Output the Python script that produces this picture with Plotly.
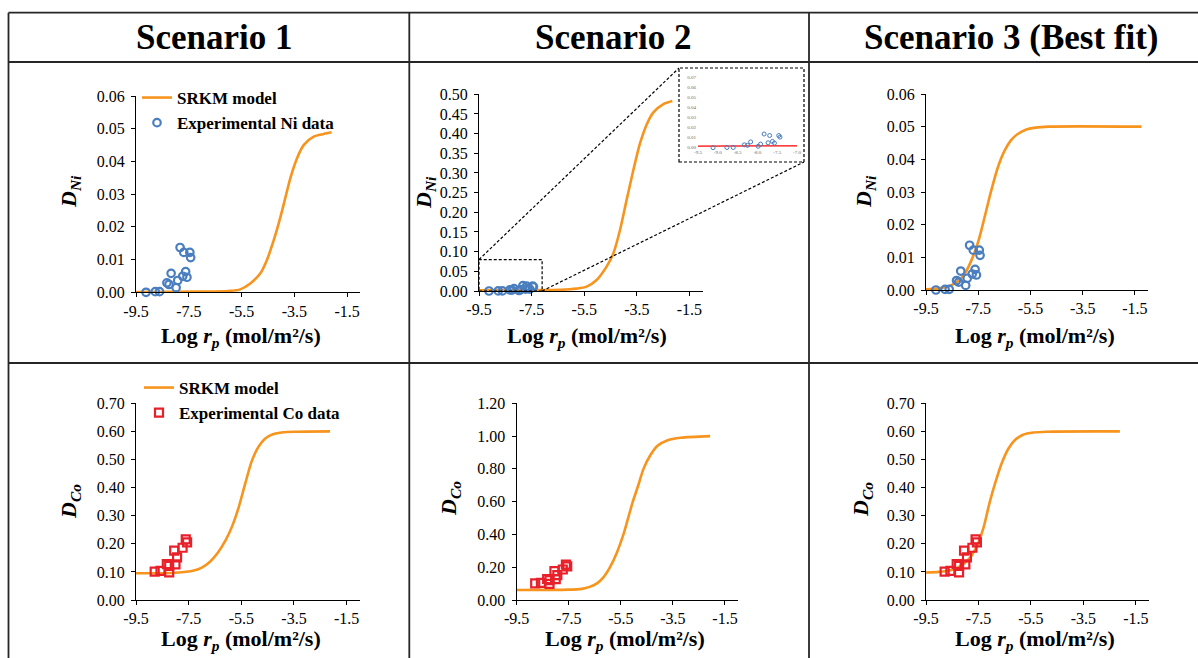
import plotly.graph_objects as go

W, H = 1198, 658
SERIF = "Liberation Serif, Times New Roman, serif"

# ---------------- data ----------------
x_ticks = [-9.5, -7.5, -5.5, -3.5, -1.5]
x_tick_text = ["-9.5", "-7.5", "-5.5", "-3.5", "-1.5"]
inset_x_ticks = [-9.5, -9.0, -8.5, -8.0, -7.5, -7.0]
inset_x_text = ["-9.5", "-9.0", "-8.5", "-8.0", "-7.5", "-7.0"]
headers = ["Scenario 1", "Scenario 2", "Scenario 3 (Best fit)"]

# experimental data
ni_x = [-9.12, -8.77, -8.61, -8.33, -8.25, -8.17, -7.98, -7.92, -7.83, -7.73, -7.69, -7.62, -7.57, -7.46, -7.43]
ni_y = [0.0000, 0.0002, 0.0002, 0.0029, 0.0024, 0.0058, 0.0014, 0.0036, 0.0137, 0.0049, 0.0122, 0.0063, 0.0046, 0.0122, 0.0106]
co_x = [-8.79, -8.57, -8.33, -8.24, -8.24, -8.05, -8.00, -7.94, -7.73, -7.61, -7.56]
co_y = [0.101, 0.104, 0.128, 0.121, 0.098, 0.176, 0.127, 0.152, 0.186, 0.216, 0.205]

# SRKM model curves
ni1_x = [-9.5, -7.0, -6.0, -5.55, -5.17, -4.79, -4.54, -4.28, -4.03, -3.84, -3.65, -3.40, -3.15, -2.77, -2.39, -2.09]
ni1_y = [0.0001, 0.0002, 0.0004, 0.0009, 0.0027, 0.0058, 0.0099, 0.016, 0.023, 0.029, 0.035, 0.041, 0.045, 0.0476, 0.0484, 0.0489]
ni2_x = [-9.5, -7.5, -6.42, -5.79, -5.41, -5.03, -4.65, -4.39, -4.14, -3.89, -3.63, -3.38, -3.12, -2.87, -2.49, -2.15]
ni2_y = [0.002, 0.0025, 0.003, 0.006, 0.011, 0.028, 0.062, 0.096, 0.155, 0.231, 0.308, 0.375, 0.424, 0.454, 0.475, 0.483]
ni3_x = [-9.5, -9.0, -8.6, -8.3, -8.0, -7.75, -7.5, -7.25, -7.0, -6.75, -6.5, -6.25, -6.0, -5.7, -5.3, -4.8, -1.25]
ni3_y = [0.0002, 0.0005, 0.0012, 0.0025, 0.0052, 0.0093, 0.0148, 0.0225, 0.0305, 0.0375, 0.0425, 0.0458, 0.0477, 0.0490, 0.0497, 0.05, 0.05]
co1_x = [-9.5, -8.0, -7.3, -7.0, -6.7, -6.4, -6.1, -5.85, -5.6, -5.35, -5.1, -4.85, -4.6, -4.3, -3.9, -3.4, -2.13]
co1_y = [0.095, 0.097, 0.105, 0.115, 0.135, 0.167, 0.212, 0.262, 0.33, 0.415, 0.495, 0.545, 0.574, 0.59, 0.597, 0.599, 0.6]
co2_x = [-9.5, -7.5, -7.0, -6.7, -6.43, -6.17, -5.915, -5.65, -5.40, -5.22, -5.04, -4.83, -4.63, -4.38, -4.1, -3.7, -3.2, -2.07]
co2_y = [0.061, 0.063, 0.068, 0.08, 0.10, 0.138, 0.20, 0.29, 0.40, 0.50, 0.60, 0.70, 0.80, 0.88, 0.94, 0.975, 0.99, 1.0]
co3_x = [-9.5, -9.0, -8.6, -8.3, -8.0, -7.75, -7.5, -7.3, -7.08, -6.85, -6.6, -6.35, -6.1, -5.8, -5.4, -4.9, -2.11]
co3_y = [0.098, 0.10, 0.105, 0.115, 0.133, 0.16, 0.205, 0.26, 0.345, 0.42, 0.49, 0.54, 0.57, 0.588, 0.596, 0.599, 0.6]

# inset (scenario 2 zoom)
inset_line_x = [-9.5, -8.5, -7.5, -7.0]
inset_line_y = [0.0015, 0.0016, 0.0018, 0.0019]
zoom_box_x = [-9.5, -7.1]
zoom_box_y = [0.0, 0.08]

# ---------------- layout geometry (pixels) ----------------
# (left, right, top, bottom) of each plot area
panels = [
    (136, 360.4, 96, 292.3),
    (479, 702.6, 94.3, 291),
    (926, 1148, 94, 290),
    (136, 359.8, 403.3, 600),
    (516.7, 738, 403.3, 600),
    (926, 1149, 403.3, 600),
]
y_ranges = [[0, 0.06], [0, 0.5], [0, 0.06], [0, 0.7], [0, 1.2], [0, 0.7]]
y_dticks = [0.01, 0.05, 0.01, 0.1, 0.2, 0.1]
x_range = [-9.5, -1.0]

ORANGE = "#F7941D"
BLUE = "#4A7EBF"
RED = "#E8202A"

curves = [(ni1_x, ni1_y), (ni2_x, ni2_y), (ni3_x, ni3_y),
          (co1_x, co1_y), (co2_x, co2_y), (co3_x, co3_y)]


def xd(a, b):
    return [a / W, b / W]


def yd(top, bottom):
    return [1 - bottom / H, 1 - top / H]


fig = go.Figure()

for i, (cx, cy) in enumerate(curves):
    k = i + 1
    xa = "x" if k == 1 else f"x{k}"
    ya = "y" if k == 1 else f"y{k}"
    top_row = i < 3
    legend_id = "legend" if i == 0 else ("legend2" if i == 3 else None)
    fig.add_trace(go.Scatter(
        x=cx, y=cy, mode="lines", line=dict(color=ORANGE, width=2.6, shape="spline", smoothing=0.8),
        name="SRKM model", xaxis=xa, yaxis=ya, cliponaxis=False,
        showlegend=legend_id is not None, legend=legend_id if legend_id else "legend"))
    if top_row:
        fig.add_trace(go.Scatter(
            x=ni_x, y=ni_y, mode="markers",
            marker=dict(symbol="circle-open", size=7.5, color=BLUE, line=dict(width=2.2, color=BLUE)),
            name="Experimental Ni data", xaxis=xa, yaxis=ya, cliponaxis=False,
            showlegend=legend_id is not None, legend=legend_id if legend_id else "legend"))
    else:
        fig.add_trace(go.Scatter(
            x=co_x, y=co_y, mode="markers",
            marker=dict(symbol="square-open", size=8, color=RED, line=dict(width=2.2, color=RED)),
            name="Experimental Co data", xaxis=xa, yaxis=ya, cliponaxis=False,
            showlegend=legend_id is not None, legend=legend_id if legend_id else "legend"))

# inset traces
fig.add_trace(go.Scatter(x=inset_line_x, y=inset_line_y, mode="lines",
                         line=dict(color="#FF0000", width=1.2), xaxis="x7", yaxis="y7",
                         showlegend=False, cliponaxis=False))
fig.add_trace(go.Scatter(x=ni_x, y=ni_y, mode="markers",
                         marker=dict(symbol="circle-open", size=4, color=BLUE, line=dict(width=1, color=BLUE)),
                         xaxis="x7", yaxis="y7", showlegend=False, cliponaxis=False))

axis_common = dict(showline=True, linecolor="black", linewidth=1.3, ticks="outside", ticklen=4,
                   tickwidth=1, tickcolor="black", showgrid=False, zeroline=False, automargin=False,
                   tickfont=dict(family=SERIF, size=16, color="black"), fixedrange=True)

layout = dict(template="none", width=W, height=H,
              margin=dict(l=0, r=0, t=0, b=0, pad=0, autoexpand=False),
              paper_bgcolor="white", plot_bgcolor="rgba(0,0,0,0)", showlegend=True,
              font=dict(family=SERIF, color="black"))

for i, (l, r, t, b) in enumerate(panels):
    k = i + 1
    xname = "xaxis" if k == 1 else f"xaxis{k}"
    yname = "yaxis" if k == 1 else f"yaxis{k}"
    layout[xname] = dict(axis_common, domain=xd(l, r), range=x_range, tickvals=x_ticks,
                         ticktext=x_tick_text, anchor="y" if k == 1 else f"y{k}")
    layout[yname] = dict(axis_common, domain=yd(t, b), range=y_ranges[i], tick0=0, dtick=y_dticks[i],
                         tickformat=".2f", anchor="x" if k == 1 else f"x{k}", ticklabelstandoff=3)

# inset axes
inset_px = (698, 797, 77.7, 147.7)
layout["xaxis7"] = dict(domain=xd(inset_px[0], inset_px[1]), range=[-9.5, -7.0], tickvals=inset_x_ticks,
                        ticktext=inset_x_text, showline=False, showgrid=False, zeroline=False, ticks="",
                        automargin=False,
                        tickfont=dict(family=SERIF, size=5, color="#666666"), anchor="y7", fixedrange=True)
layout["yaxis7"] = dict(domain=yd(inset_px[2], inset_px[3]), range=[0, 0.07], dtick=0.01, tick0=0,
                        tickformat=".2f", showline=False, showgrid=False, zeroline=False, ticks="",
                        automargin=False,
                        tickfont=dict(family=SERIF, size=5, color="#666666"), anchor="x7", fixedrange=True,
                        ticklabelstandoff=1)

legend_font = dict(family=SERIF, size=17, color="black", weight="bold")
layout["legend"] = dict(x=137 / W, y=1 - 80 / H, xanchor="left", yanchor="top", bgcolor="rgba(0,0,0,0)",
                        font=legend_font, tracegroupgap=0, itemwidth=30, borderwidth=0)
layout["legend2"] = dict(x=139 / W, y=1 - 370 / H, xanchor="left", yanchor="top", bgcolor="rgba(0,0,0,0)",
                         font=legend_font, tracegroupgap=0, itemwidth=30, borderwidth=0)

# ---------------- shapes: table grid, zoom box, inset frame ----------------
GRID = "#262626"
shapes = []
for yy in [12.7, 62, 363]:
    shapes.append(dict(type="line", xref="paper", yref="paper", x0=8.5 / W, x1=1.0,
                       y0=1 - yy / H, y1=1 - yy / H, line=dict(color=GRID, width=1.8)))
for xx in [8.5, 409.3, 809]:
    shapes.append(dict(type="line", xref="paper", yref="paper", x0=xx / W, x1=xx / W,
                       y0=1 - 12.7 / H, y1=0, line=dict(color=GRID, width=1.8)))

DASH = dict(color="black", width=1.2, dash="3px,2px")
shapes.append(dict(type="rect", xref="x2", yref="y2", x0=zoom_box_x[0], x1=zoom_box_x[1],
                   y0=zoom_box_y[0], y1=zoom_box_y[1], line=DASH))


def to_px_x(panel, rng, v):
    l, r = panel[0], panel[1]
    return l + (v - rng[0]) / (rng[1] - rng[0]) * (r - l)


def to_px_y(panel, rng, v):
    t, b = panel[2], panel[3]
    return b - (v - rng[0]) / (rng[1] - rng[0]) * (b - t)


inset_frame = (679, 804, 68, 162)
p2 = panels[1]
tlx = to_px_x(p2, x_range, zoom_box_x[0]); tly = to_px_y(p2, y_ranges[1], zoom_box_y[1])
brx = to_px_x(p2, x_range, zoom_box_x[1]); bry = to_px_y(p2, y_ranges[1], zoom_box_y[0])
shapes.append(dict(type="line", xref="paper", yref="paper", x0=tlx / W, y0=1 - tly / H,
                   x1=inset_frame[0] / W, y1=1 - inset_frame[2] / H, line=DASH))
shapes.append(dict(type="line", xref="paper", yref="paper", x0=brx / W, y0=1 - bry / H,
                   x1=inset_frame[1] / W, y1=1 - inset_frame[3] / H, line=DASH))
shapes.append(dict(type="rect", xref="paper", yref="paper", x0=inset_frame[0] / W, x1=inset_frame[1] / W,
                   y0=1 - inset_frame[3] / H, y1=1 - inset_frame[2] / H, line=DASH, fillcolor="white",
                   layer="below"))
layout["shapes"] = shapes

# ---------------- annotations: headers and axis titles ----------------
ann = []
for txt, cx in zip(headers, [214, 614, 1011]):
    ann.append(dict(text=f"<b>{txt}</b>", x=cx / W, y=1 - 37.5 / H, xref="paper", yref="paper",
                    showarrow=False, xanchor="center", yanchor="middle",
                    font=dict(family=SERIF, size=35, color="black")))

xtitle = "<b>Log <i>r</i><sub><i>p</i></sub> (mol/m²/s)</b>"
ytitle_ni = "<b><i>D</i><sub><i>Ni</i></sub></b>"
ytitle_co = "<b><i>D</i><sub><i>Co</i></sub></b>"
xt_pos = [(240.5, 337), (586.7, 337), (1035, 337), (240.5, 640), (625, 640), (1035, 640)]
yt_pos = [(70, 192), (425, 193), (865, 192), (70, 502), (450, 499), (862, 500)]
for i in range(6):
    ann.append(dict(text=xtitle, x=xt_pos[i][0] / W, y=1 - xt_pos[i][1] / H, xref="paper", yref="paper",
                    showarrow=False, xanchor="center", yanchor="middle",
                    font=dict(family=SERIF, size=22, color="black")))
    ann.append(dict(text=ytitle_ni if i < 3 else ytitle_co, x=yt_pos[i][0] / W, y=1 - yt_pos[i][1] / H,
                    xref="paper", yref="paper", showarrow=False, xanchor="center", yanchor="middle",
                    textangle=-90, font=dict(family=SERIF, size=22, color="black")))
layout["annotations"] = ann

fig.update_layout(layout)
fig.write_html("out.html", config={"displayModeBar": False},
               post_script="document.body.style.margin='0';document.body.style.overflow='hidden';")
